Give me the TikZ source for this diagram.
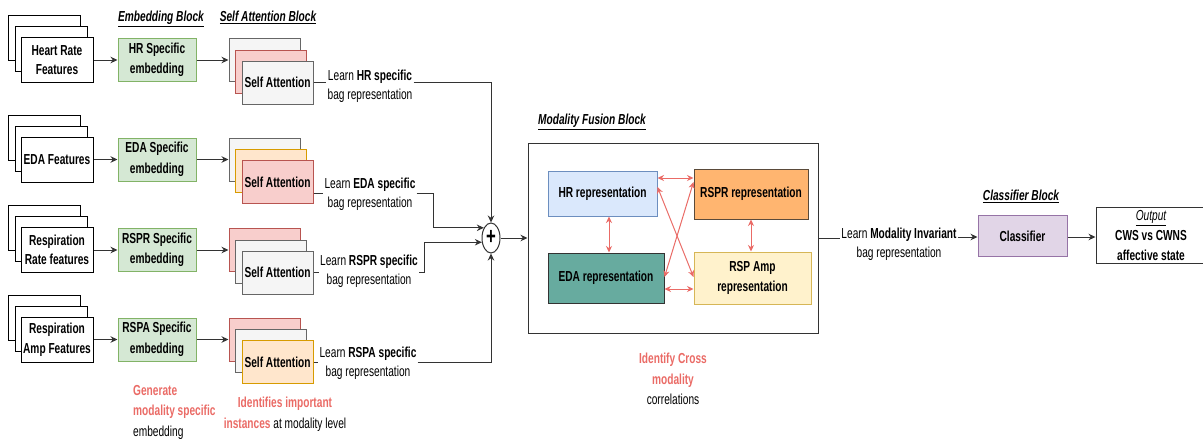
\documentclass[tikz,border=0pt]{standalone}
\usepackage{fontspec}
\setmainfont[FakeStretch=0.7]{Liberation Sans}
\usetikzlibrary{arrows.meta,calc,shapes.geometric}
\definecolor{redc}{HTML}{EA6B66}
\definecolor{grayf}{HTML}{F5F5F5}
\definecolor{grayb}{HTML}{666666}
\definecolor{pinkf}{HTML}{F8CECC}
\definecolor{pinkb}{HTML}{B85450}
\definecolor{orf}{HTML}{FFE6CC}
\definecolor{orb}{HTML}{D79B00}
\definecolor{embf}{HTML}{D5E8D4}
\definecolor{embb}{HTML}{82B366}
\definecolor{bluef}{HTML}{DAE8FC}
\definecolor{blueb}{HTML}{6C8EBF}
\definecolor{orangef}{HTML}{FFB570}
\definecolor{orangeb}{HTML}{5A4A3A}
\definecolor{tealf}{HTML}{67AB9F}
\definecolor{tealb}{HTML}{333333}
\definecolor{yelf}{HTML}{FFF2CC}
\definecolor{yelb}{HTML}{D6B656}
\definecolor{purf}{HTML}{E1D5E7}
\definecolor{purb}{HTML}{9673A6}
\definecolor{linec}{HTML}{333333}
\begin{document}
\begin{tikzpicture}[x=1pt,y=-1pt,
  font=\fontsize{14.5}{18}\selectfont,
  feat/.style={draw=black, fill=white, line width=1pt, minimum width=72pt, minimum height=45pt, align=center, font=\fontsize{14.5}{19.5}\selectfont\bfseries, inner sep=1pt},
  emb/.style={draw=embb, fill=embf, line width=1pt, minimum width=78pt, minimum height=43pt, align=center, font=\fontsize{14.5}{20.5}\selectfont\bfseries, inner sep=1pt},
  sabox/.style={line width=1pt, minimum width=71pt, minimum height=43pt, align=center, font=\fontsize{14.5}{18}\selectfont\bfseries, inner sep=1pt},
  sagray/.style={sabox, draw=grayb, fill=grayf},
  sapink/.style={sabox, draw=pinkb, fill=pinkf},
  saor/.style={sabox, draw=orb, fill=orf},
  lbl/.style={align=center, inner sep=1pt, font=\fontsize{14.5}{18.5}\selectfont},
  ttl/.style={inner sep=1pt, font=\fontsize{14.5}{16}\selectfont\bfseries\itshape},
  rep/.style={line width=1pt, align=center, font=\fontsize{14.5}{20}\selectfont\bfseries, inner sep=1pt},
  conn/.style={draw=linec, line width=1pt},
  arr/.style={conn, -{Stealth[length=7pt,width=6.5pt]}},
  redarr/.style={draw=redc, line width=1pt, {Stealth[length=6.5pt,width=6pt]}-{Stealth[length=6.5pt,width=6pt]}},
  note/.style={inner sep=0pt, font=\fontsize{14.5}{20.5}\selectfont}
]
\useasboundingbox (0,0) rectangle (1203,442);

% titles
\node[ttl] (t1) at (161,19) {\underline{Embedding Block}};
\node[ttl] (t2) at (268,17) {\underline{Self Attention Block}};
\node[ttl] (t3) at (592,122) {\underline{Modality Fusion Block}};
\node[ttl] (t4) at (1021,196) {\underline{Classifier Block}};

% feature stacks
\foreach \r/\y/\txt in {1/60/{Heart Rate\\Features}, 2/159.5/{EDA Features}, 3/250/{Respiration\\Rate features}, 4/339.5/{Respiration\\Amp Features}}{
  \node[feat] (fb\r) at (44,\y-22) {};
  \node[feat] (fm\r) at (51,\y-11) {};
  \node[feat] (f\r) at (57,\y) {\txt};
}

% embedding blocks
\node[emb] (e1) at (157,60) {HR Specific\\embedding};
\node[emb] (e2) at (157,159.5) {EDA Specific\\embedding};
\node[emb] (e3) at (157,250) {RSPR Specific\\embedding};
\node[emb] (e4) at (157,339.5) {RSPA Specific\\embedding};

% self attention stacks
\node[sagray] (sb1) at (264.5,60) {};
\node[sapink] (sm1) at (271,71.5) {};
\node[sagray] (s1) at (277.5,82.5) {Self Attention};

\node[sagray] (sb2) at (264.5,159.5) {};
\node[saor] (sm2) at (271,171) {};
\node[sapink] (s2) at (277.5,182) {Self Attention};

\node[sapink] (sb3) at (264.5,250) {};
\node[sagray] (sm3) at (271,261.5) {};
\node[sagray] (s3) at (277.5,272.5) {Self Attention};

\node[sapink] (sb4) at (264.5,339.5) {};
\node[sagray] (sm4) at (271,351) {};
\node[saor] (s4) at (277.5,362) {Self Attention};

% arrows features -> embedding -> SA
\foreach \r in {1,2,3,4}{
  \draw[arr] (f\r.east) -- (e\r.west);
  \draw[arr] (e\r.east) -- (sb\r.west);
}

% plus node
\node[ellipse, draw=linec, fill=white, line width=1pt, minimum width=18pt, minimum height=30pt, inner sep=0pt] (plus) at (491,238) {};
\node[inner sep=0pt, font=\fontsize{24}{24}\selectfont\bfseries] (plustxt) at (491,237) {+};

% labels
\node[lbl] (l1) at (370,86) {Learn \textbf{HR specific}\\bag representation};
\node[lbl] (l2) at (370,194) {Learn \textbf{EDA specific}\\bag representation};
\node[lbl] (l3) at (369,271) {Learn \textbf{RSPR specific}\\bag representation};
\node[lbl] (l4) at (368,363) {Learn \textbf{RSPA specific}\\bag representation};

\coordinate (j2) at (433,0);
\coordinate (j3) at (424,0);

\draw[conn] (s1.east) -- (l1.west |- s1.east);
\draw[arr] (l1.east |- s1.east) -| (plus.north);

\draw[conn] ($(s2.east)+(0,11)$) -- (l2.west |- 0,193);
\draw[arr] (l2.east |- 0,193) -| (j2 |- plus.125) -- (plus.125);

\draw[conn] (s3.east) -- (l3.west |- s3.east);
\draw[arr] (l3.east |- s3.east) -| (j3 |- plus.205) -- (plus.205);

\draw[conn] (s4.east) -- (l4.west |- s4.east);
\draw[arr] (l4.east |- s4.east) -| (plus.south);

% fusion block
\node[draw=linec, fill=white, line width=1pt, minimum width=290pt, minimum height=190pt, inner sep=0pt] (fus) at (673,238) {};
\draw[arr] (plus.east) -- (plus.east -| fus.west);

\node[rep, draw=blueb, fill=bluef, minimum width=109pt, minimum height=45pt] (hr) at (602.5,193.5) {HR representation};
\node[rep, draw=orangeb, fill=orangef, minimum width=114pt, minimum height=50pt] (rspr) at (751,194) {RSPR representation};
\node[rep, draw=tealb, fill=tealf, minimum width=116pt, minimum height=50pt] (eda) at (606,278) {EDA representation};
\node[rep, draw=yelb, fill=yelf, minimum width=117pt, minimum height=52pt] (rspa) at (752.5,278) {RSP Amp\\representation};

\draw[redarr] (hr.east |- 0,178) -- (rspr.west |- 0,178);
\draw[redarr] (hr.south -| 609,0) -- (eda.north -| 609,0);
\draw[redarr] (rspr.south) -- (rspr.south |- rspa.north);
\draw[redarr] (eda.east |- 0,289) -- (rspa.west |- 0,289);
\draw[redarr] (hr.east |- 0,187) -- (rspa.west |- 0,277);
\draw[redarr] (rspr.west |- 0,182) -- (eda.east |- 0,277);

% modality invariant
\node[lbl] (mi) at (899,244) {Learn \textbf{Modality Invariant}\\bag representation};
\node[rep, draw=purb, fill=purf, minimum width=89pt, minimum height=41pt] (cls) at (1022.5,236) {Classifier};
\node[draw=linec, fill=white, line width=1pt, minimum width=118pt, minimum height=56pt, inner sep=0pt] (out) at (1155,235) {};
\node[align=center, inner sep=0pt, font=\fontsize{14.5}{20}\selectfont] (outtxt) at (1151,236) {\textit{\underline{Output}}\\\textbf{CWS vs CWNS}\\\textbf{affective state}};

\draw[conn] (fus.east |- 0,238) -- (mi.west |- 0,238);
\draw[arr] (mi.east |- 0,237) -- (cls.west |- 0,237);
\draw[arr] (cls.east |- 0,237) -- (out.west |- 0,237);

% notes
\node[note, align=left, anchor=west] (n1) at (133,412) {\textcolor{redc}{\textbf{Generate}}\\\textcolor{redc}{\textbf{modality specific}}\\embedding};
\node[note, align=center] (n2) at (285,414) {\textcolor{redc}{\textbf{Identifies important}}\\\textcolor{redc}{\textbf{instances}} at modality level};
\node[note, align=center] (n3) at (673,379) {\textcolor{redc}{\textbf{Identify Cross}}\\\textcolor{redc}{\textbf{modality}}\\correlations};
\end{tikzpicture}
\end{document}
